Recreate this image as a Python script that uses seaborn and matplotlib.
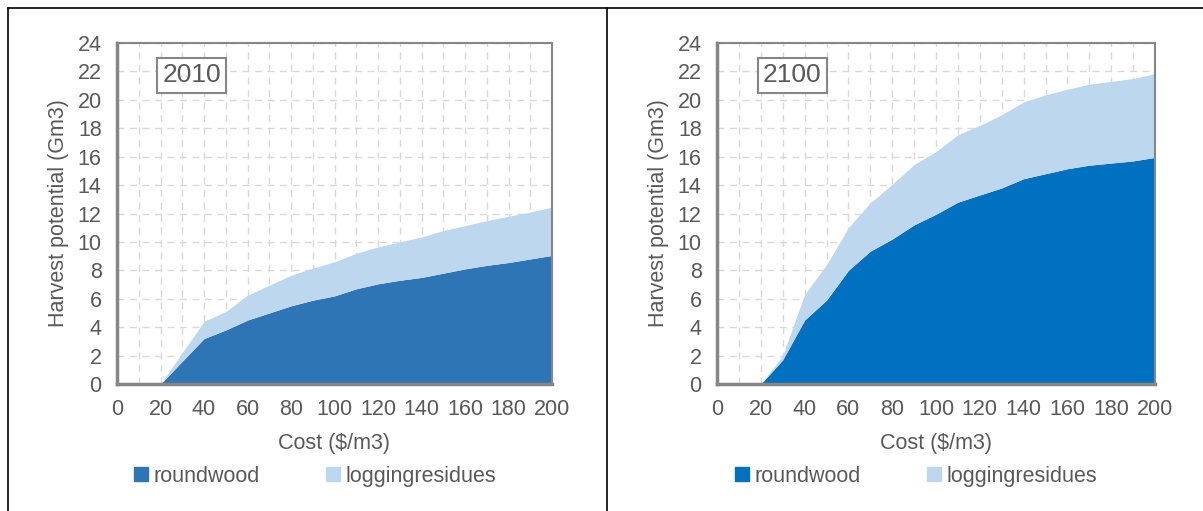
import numpy as np
import pandas as pd
import seaborn as sns
import matplotlib.pyplot as plt
from matplotlib.lines import Line2D
from matplotlib.patches import Patch

# cost steps ($/m3)
cost = list(range(0, 201, 10))

# 2010 harvest potential (Gm3)
rw_2010 = [0, 0, 0, 1.6, 3.2, 3.8, 4.5, 5.0, 5.5, 5.9, 6.2, 6.7, 7.05, 7.3, 7.5, 7.8, 8.1, 8.35, 8.55, 8.8, 9.05]
total_2010 = [0, 0, 0, 2.2, 4.4, 5.1, 6.25, 6.95, 7.65, 8.15, 8.6, 9.2, 9.65, 10.0, 10.35, 10.8, 11.15, 11.5, 11.8, 12.1, 12.45]

# 2100 harvest potential (Gm3)
rw_2100 = [0, 0, 0, 1.7, 4.5, 5.9, 8.0, 9.35, 10.2, 11.2, 11.95, 12.8, 13.3, 13.8, 14.45, 14.8, 15.15, 15.4, 15.55, 15.7, 15.95]
total_2100 = [0, 0, 0, 2.0, 6.3, 8.4, 11.0, 12.75, 14.05, 15.45, 16.35, 17.55, 18.2, 18.95, 19.85, 20.35, 20.75, 21.1, 21.3, 21.5, 21.85]

years = ["2010", "2100"]
labels = ["roundwood", "loggingresidues"]

df = pd.DataFrame({
    "cost": cost * 2,
    "year": ["2010"] * len(cost) + ["2100"] * len(cost),
    "roundwood": rw_2010 + rw_2100,
    "loggingresidues": list(np.array(total_2010) - np.array(rw_2010))
                       + list(np.array(total_2100) - np.array(rw_2100)),
})

sns.set_style("white")
plt.rcParams["font.family"] = ["Liberation Sans", "DejaVu Sans"]

grey_txt = "#595959"
spine_c = "#868686"
light = "#BDD7EE"
dark = {"2010": "#2E75B6", "2100": "#0070C0"}
fs = 15.5

fig = plt.figure(figsize=(12.03, 5.11), dpi=100)

lefts = [117 / 1203, 717 / 1203]
widths = [435 / 1203, 438 / 1203]
for i, yr in enumerate(years):
    ax = fig.add_axes([lefts[i], 1 - 384 / 511, widths[i], 341 / 511])
    d = df[df["year"] == yr]
    ax.stackplot(d["cost"], d["roundwood"], d["loggingresidues"],
                 colors=[dark[yr], light], linewidth=0, zorder=2)
    ax.set_xlim(0, 200)
    ax.set_ylim(0, 24)
    ax.set_xticks(range(0, 201, 20))
    ax.set_xticks(range(0, 201, 10), minor=True)
    ax.set_yticks(range(0, 25, 2))
    ax.grid(True, which="both", axis="x", color="#D9D9D9", linestyle=(0, (5, 4)), linewidth=1, zorder=0)
    ax.grid(True, which="major", axis="y", color="#D9D9D9", linestyle=(0, (5, 4)), linewidth=1, zorder=0)
    for s in ["left", "bottom"]:
        ax.spines[s].set_color(spine_c)
        ax.spines[s].set_linewidth(2.5)
        ax.spines[s].set_zorder(5)
    for s in ["top", "right"]:
        ax.spines[s].set_color(spine_c)
        ax.spines[s].set_linewidth(1.5)
    ax.tick_params(axis="both", which="both", direction="out", color=spine_c,
                   width=2, length=6, labelsize=fs, labelcolor=grey_txt, pad=5)
    ax.tick_params(axis="x", which="minor", length=6)
    ax.set_xlabel("Cost ($/m3)", fontsize=fs, color=grey_txt, labelpad=9)
    ax.set_ylabel("Harvest potential (Gm3)", fontsize=fs, color=grey_txt, labelpad=6)
    ax.text(0.172, 0.905, yr, transform=ax.transAxes, fontsize=19, color=grey_txt,
            ha="center", va="center", zorder=6,
            bbox=dict(boxstyle="square,pad=0.2", fc="white", ec=spine_c, lw=1.5))
    handles = [Patch(color=dark[yr]), Patch(color=light)]
    ax.legend(handles, labels, loc="center", bbox_to_anchor=(0.455, -0.27), ncol=2,
              frameon=False, fontsize=fs, labelcolor=grey_txt, handlelength=0.65,
              handleheight=0.65, handletextpad=0.25, columnspacing=3.1)

# panel frame lines
top = 1 - 8 / 511
fig.add_artist(Line2D([8 / 1203, 1.0], [top, top], color="black", lw=1.2))
fig.add_artist(Line2D([8 / 1203, 8 / 1203], [0, top], color="black", lw=1.2))
fig.add_artist(Line2D([607 / 1203, 607 / 1203], [0, top], color="black", lw=1.2))

fig.savefig("out.png", dpi=100)
